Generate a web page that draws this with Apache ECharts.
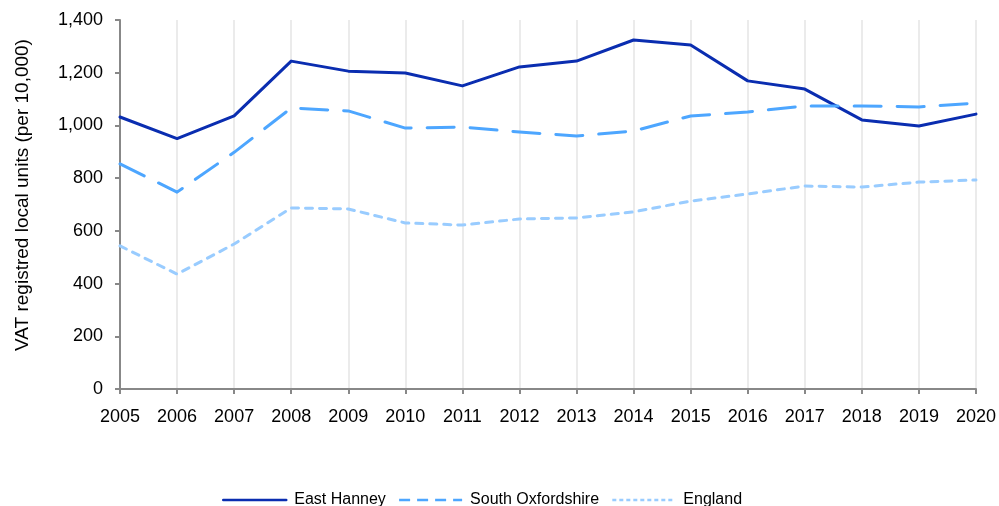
<!DOCTYPE html>
<html>
<head>
<meta charset="utf-8">
<script src="https://cdn.jsdelivr.net/npm/echarts@6/dist/echarts.min.js"></script>
<style>
  html, body { margin: 0; padding: 0; background: #fff; }
  #chart { width: 999px; height: 506px; }
</style>
</head>
<body>
<div id="chart"></div>
<script>
const years = ['2005','2006','2007','2008','2009','2010','2011','2012','2013','2014','2015','2016','2017','2018','2019','2020'];
const eastHanney = [1032, 950, 1036, 1244, 1206, 1199, 1150, 1222, 1244, 1324, 1305, 1169, 1138, 1021, 998, 1043];
const southOxfordshire = [854, 747, 898, 1066, 1055, 990, 994, 975, 960, 979, 1036, 1051, 1074, 1074, 1070, 1085];
const england = [543, 436, 550, 687, 683, 630, 622, 645, 649, 672, 713, 740, 770, 766, 785, 793];

const font = 'Liberation Sans, Arial, sans-serif';
const colors = { hanney: '#0a2db0', oxon: '#4da6ff', england: '#99ccff' };
const chart = echarts.init(document.getElementById('chart'), null, { renderer: 'canvas' });

function lineSeries(name, data, color, type) {
  return {
    name: name,
    type: 'line',
    data: data,
    symbol: 'none',
    lineStyle: { color: color, width: 3, type: type, cap: 'round', join: 'round' },
    itemStyle: { color: color },
    emphasis: { disabled: true }
  };
}

chart.setOption({
  animation: false,
  grid: { left: 120, right: 19, top: 20, bottom: 117 },
  legend: {
    top: 492,
    left: 222,
    padding: 0,
    itemWidth: 63,
    itemHeight: 16,
    itemGap: 12,
    itemStyle: { opacity: 0 },
    textStyle: { fontFamily: font, fontSize: 16, color: '#000', padding: [0, 0, 0, 3] },
    data: [
      { name: 'East Hanney', lineStyle: { width: 2.5, type: 'solid' } },
      { name: 'South Oxfordshire', lineStyle: { width: 2.5, type: [11, 7], cap: 'butt' } },
      { name: 'England', lineStyle: { width: 2.5, type: [4, 3], cap: 'butt' } }
    ]
  },
  xAxis: {
    type: 'category',
    data: years,
    boundaryGap: false,
    axisLine: { lineStyle: { color: '#888', width: 2 } },
    axisTick: { show: true, length: 5, lineStyle: { color: '#888', width: 2 } },
    axisLabel: { fontFamily: font, fontSize: 18, color: '#000', margin: 19, interval: 0 },
    splitLine: { show: true, lineStyle: { color: '#ebebeb', width: 2 } }
  },
  yAxis: {
    type: 'value',
    min: 0,
    max: 1400,
    interval: 200,
    name: 'VAT registred local units (per 10,000)',
    nameLocation: 'middle',
    nameGap: 88,
    nameTextStyle: { fontFamily: font, fontSize: 19, color: '#000', padding: [0, 0, 0, 19] },
    axisLine: { show: true, lineStyle: { color: '#888', width: 2 } },
    axisTick: { show: true, length: 5, lineStyle: { color: '#888', width: 2 } },
    axisLabel: {
      fontFamily: font, fontSize: 18, color: '#000', margin: 17,
      formatter: v => v.toLocaleString('en-US')
    },
    splitLine: { show: false }
  },
  series: [
    lineSeries('East Hanney', eastHanney, colors.hanney, 'solid'),
    lineSeries('South Oxfordshire', southOxfordshire, colors.oxon, [27, 16]),
    lineSeries('England', england, colors.england, [7, 7])
  ]
});
</script>
</body>
</html>
